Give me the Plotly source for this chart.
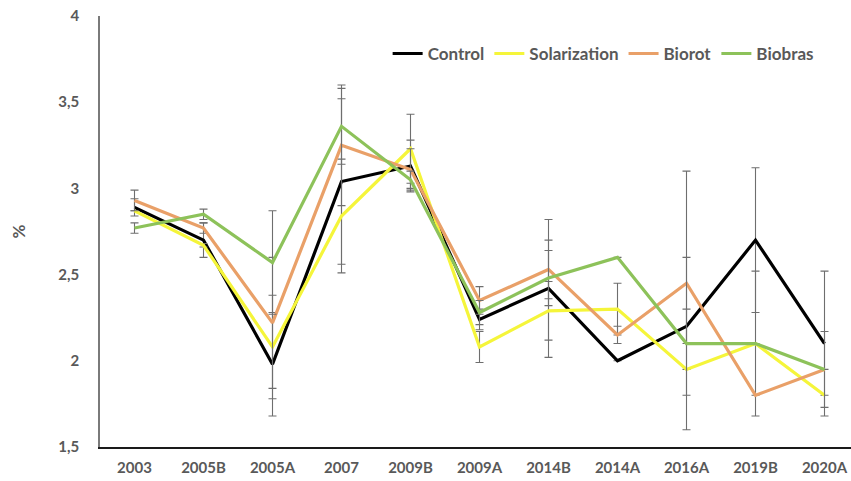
import plotly.graph_objects as go

# Sampling campaigns
campaigns = ["2003", "2005B", "2005A", "2007", "2009B", "2009A",
             "2014B", "2014A", "2016A", "2019B", "2020A"]

# Mean values (%) per treatment
control = [2.89, 2.70, 1.98, 3.04, 3.13, 2.24, 2.42, 2.00, 2.20, 2.70, 2.10]
solarization = [2.87, 2.67, 2.08, 2.84, 3.23, 2.08, 2.29, 2.30, 1.95, 2.10, 1.80]
biorot = [2.93, 2.77, 2.22, 3.25, 3.11, 2.35, 2.53, 2.15, 2.45, 1.80, 1.95]
biobras = [2.77, 2.85, 2.57, 3.36, 3.05, 2.28, 2.48, 2.60, 2.10, 2.10, 1.95]

# Error bar half-widths per treatment
control_err = [0.05, 0.10, 0.30, 0.48, 0.15, 0.06, 0.40, 0.00, 0.10, 0.42, 0.42]
solarization_err = [0.00, 0.01, 0.30, 0.33, 0.20, 0.09, 0.17, 0.15, 0.00, 0.42, 0.00]
biorot_err = [0.06, 0.03, 0.38, 0.35, 0.12, 0.08, 0.17, 0.05, 0.65, 0.00, 0.22]
biobras_err = [0.03, 0.03, 0.30, 0.22, 0.05, 0.07, 0.16, 0.00, 0.50, 0.00, 0.00]

y_ticks = [1.5, 2, 2.5, 3, 3.5, 4]
y_tick_text = ["1,5", "2", "2,5", "3", "3,5", "4"]

series = [
    ("Control", control, control_err, "#000000"),
    ("Solarization", solarization, solarization_err, "#F5F53A"),
    ("Biorot", biorot, biorot_err, "#E9A068"),
    ("Biobras", biobras, biobras_err, "#8DC25A"),
]

x_idx = list(range(len(campaigns)))

fig = go.Figure()
for name, vals, errs, color in series:
    fig.add_trace(go.Scatter(
        x=x_idx, y=vals, name=name, mode="lines",
        line=dict(color=color, width=3.2),
        error_y=dict(type="data", array=errs, visible=True,
                     color="#6E6E6E", thickness=1.1, width=4),
    ))

font_family = "Lato, Carlito, 'Open Sans', sans-serif"
label_color = "#595959"

fig.update_layout(
    width=851, height=481,
    margin=dict(l=100, r=0, t=16, b=34),
    paper_bgcolor="white", plot_bgcolor="white",
    font=dict(family=font_family, size=15, color=label_color),
    showlegend=True,
    legend=dict(
        orientation="h", x=0.383, y=0.912, xanchor="left", yanchor="middle",
        font=dict(family=font_family, size=17, color=label_color, weight="bold"),
        itemwidth=30, bgcolor="rgba(0,0,0,0)", tracegroupgap=0,
    ),
    xaxis=dict(
        range=[-0.5, 10.384],
        tickmode="array", tickvals=x_idx, ticktext=campaigns,
        showgrid=False, zeroline=False,
        showline=True, linecolor="#1a1a1a", linewidth=1.5,
        ticks="", ticklabelstandoff=6,
        tickfont=dict(family=font_family, size=15, color=label_color, weight="bold"),
    ),
    yaxis=dict(
        range=[1.5, 4],
        tickmode="array", tickvals=y_ticks, ticktext=y_tick_text,
        showgrid=False, zeroline=False,
        showline=True, linecolor="#7a7a7a", linewidth=1.5,
        ticks="", ticklabelstandoff=16,
        tickfont=dict(family=font_family, size=15, color=label_color, weight="bold"),
        title=dict(text="%", standoff=28,
                   font=dict(family=font_family, size=17, color=label_color, weight="bold")),
    ),
)

fig.write_html("out.html")
